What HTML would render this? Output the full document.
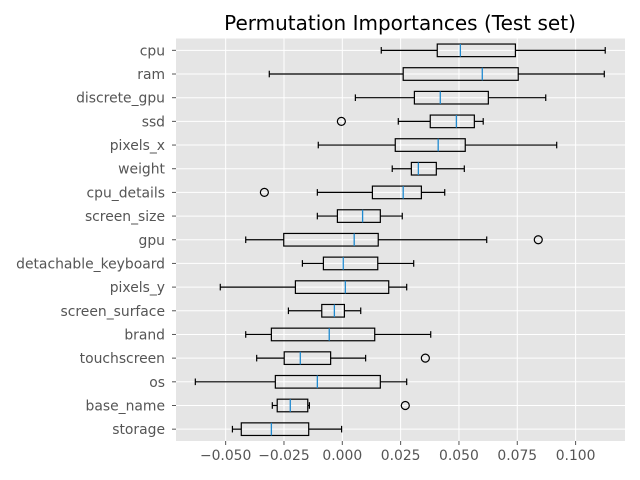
<!DOCTYPE html>
<html><head><meta charset="utf-8"><style>
body{margin:0;background:#fff;}
svg{display:block;font-family:"DejaVu Sans","Liberation Sans",sans-serif;}
</style></head><body>
<svg id="chart" width="640" height="480">
<text x="400" y="30" font-size="20" text-anchor="middle" fill="#000">Permutation Importances (Test set)</text>
</svg>
<script>
const features=["cpu","ram","discrete_gpu","ssd","pixels_x","weight","cpu_details","screen_size","gpu","detachable_keyboard","pixels_y","screen_surface","brand","touchscreen","os","base_name","storage"];
const whiskerLow=[0.0167,-0.0313,0.0056,0.024,-0.0103,0.0214,-0.0107,-0.0107,-0.0414,-0.0171,-0.0523,-0.0231,-0.0414,-0.0367,-0.063,-0.030,-0.0471];
const q1=[0.0407,0.0261,0.0309,0.0377,0.0227,0.0296,0.0129,-0.0021,-0.0251,-0.0081,-0.0201,-0.0088,-0.0304,-0.0249,-0.0287,-0.0279,-0.0433];
const medians=[0.0506,0.060,0.042,0.0489,0.0411,0.0326,0.0261,0.0087,0.0051,0.0004,0.0013,-0.0034,-0.0056,-0.018,-0.0107,-0.0223,-0.0304];
const q3=[0.0742,0.0754,0.0626,0.0566,0.0527,0.0403,0.0339,0.0163,0.0154,0.0152,0.0199,0.0009,0.0139,-0.005,0.0163,-0.0148,-0.0144];
const whiskerHigh=[0.1127,0.1123,0.0872,0.0604,0.0919,0.0523,0.0439,0.0257,0.0619,0.0306,0.0276,0.0079,0.0379,0.01,0.0276,-0.0141,-0.0003];
const outliers=[[],[],[],[-0.0004],[],[],[-0.0334],[],[0.084],[],[],[],[],[0.0356],[],[0.027],[]];
const xTicks=[-0.05,-0.025,0,0.025,0.05,0.075,0.1];
const xTickLabels=["\u22120.050","\u22120.025","0.000","0.025","0.050","0.075","0.100"];

const L=176,R=625,T=38.5,B=441;
const x0=342.3, pxPerUnit=2333;
const X=v=>x0+v*pxPerUnit;
const rowH=(B-T)/features.length;
const Y=i=>T+(i+0.5)*rowH;
const svg=document.getElementById('chart');
const NS='http://www.w3.org/2000/svg';
function mk(tag,attrs,parent){const e=document.createElementNS(NS,tag);for(const k in attrs)e.setAttribute(k,attrs[k]);(parent||svg).appendChild(e);return e;}

const bg=mk('rect',{x:L,y:T,width:R-L,height:B-T,fill:'#e5e5e5'});


xTicks.forEach((t,i)=>{
  const g=mk('line',{x1:X(t),x2:X(t),y1:T,y2:B,stroke:'#fff','stroke-width':1});
  
  
  const tk=mk('line',{x1:X(t),x2:X(t),y1:B,y2:B+4,stroke:'#555'});
  
  
  const tl=mk('text',{x:X(t),y:B+19,'font-size':13.9,'text-anchor':'middle',fill:'#555'});
  tl.textContent=xTickLabels[i];
  
  
});
features.forEach((f,i)=>{
  const y=Y(i);
  const g=mk('line',{x1:L,x2:R,y1:y,y2:y,stroke:'#fff','stroke-width':1});
  
  
  const tk=mk('line',{x1:L-4,x2:L,y1:y,y2:y,stroke:'#555'});
  
  
  const tl=mk('text',{x:L-11,y:y+5,'font-size':13.9,'text-anchor':'end',fill:'#555'});
  tl.textContent=f;
  
  
});
features.forEach((f,i)=>{
  const y=Y(i),h=6.3;
  const grp=mk('g',{});
  
  
  const st={stroke:'#000','stroke-width':1.2,fill:'none'};
  mk('line',Object.assign({x1:X(whiskerLow[i]),x2:X(q1[i]),y1:y,y2:y},st),grp);
  mk('line',Object.assign({x1:X(q3[i]),x2:X(whiskerHigh[i]),y1:y,y2:y},st),grp);
  mk('line',Object.assign({x1:X(whiskerLow[i]),x2:X(whiskerLow[i]),y1:y-3.3,y2:y+3.3},st),grp);
  mk('line',Object.assign({x1:X(whiskerHigh[i]),x2:X(whiskerHigh[i]),y1:y-3.3,y2:y+3.3},st),grp);
  mk('rect',Object.assign({x:X(q1[i]),y:y-h,width:X(q3[i])-X(q1[i]),height:2*h},st),grp);
  mk('line',{x1:X(medians[i]),x2:X(medians[i]),y1:y-h,y2:y+h,stroke:'#1f8ad0','stroke-width':1.3},grp);
  outliers[i].forEach(o=>{
    const c=mk('circle',{cx:X(o),cy:y,r:4,fill:'none',stroke:'#000','stroke-width':1.2},grp);
    
    
  });
});
</script>
</body></html>
